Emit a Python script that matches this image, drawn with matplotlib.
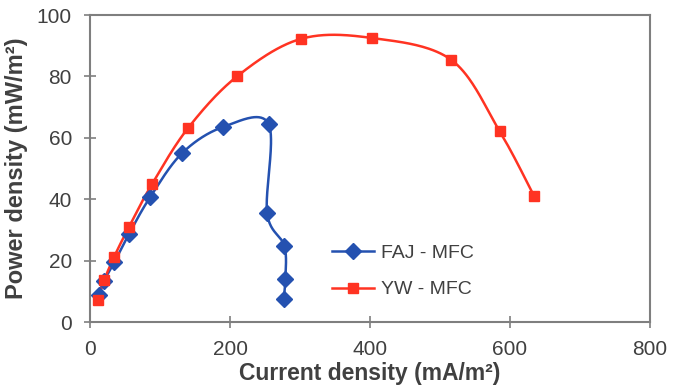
import numpy as np
import matplotlib
matplotlib.use("Agg")
import matplotlib.pyplot as plt

plt.rcParams['font.family'] = ['Liberation Sans', 'DejaVu Sans']

faj_x = [13, 19.5, 34.6, 56, 86, 132, 190, 255, 253, 277.6, 279, 276.6]
faj_y = [8.8, 13.2, 19.4, 28.8, 40.7, 55.1, 63.5, 64.6, 35.5, 24.8, 14, 7.5]

yw_x = [11, 20.4, 34.6, 56, 88.3, 140.5, 210.6, 301, 403, 516, 585, 634]
yw_y = [7.2, 13.7, 21.3, 31.1, 44.8, 63.3, 80.1, 92.2, 92.5, 85.4, 62.2, 41.2]

x_ticks = [0, 200, 400, 600, 800]
y_ticks = [0, 20, 40, 60, 80, 100]

BLUE = '#2451B0'
RED = '#FF3322'
GRAY = '#7f7f7f'


def smooth(xs, ys, sx=562 / 800, sy=306 / 100, n=40):
    # Catmull-Rom (Bezier) smoothing in screen-proportional space
    P = np.column_stack([np.asarray(xs) * sx, np.asarray(ys) * sy])
    P = np.vstack([P[0], P, P[-1]])
    out = []
    t = np.linspace(0, 1, n)[:, None]
    for i in range(1, len(P) - 2):
        p0, p1, p2, p3 = P[i - 1], P[i], P[i + 1], P[i + 2]
        c1 = p1 + (p2 - p0) / 6
        c2 = p2 - (p3 - p1) / 6
        seg = ((1 - t) ** 3) * p1 + 3 * ((1 - t) ** 2) * t * c1 + 3 * (1 - t) * t ** 2 * c2 + t ** 3 * p2
        out.append(seg)
    out = np.vstack(out)
    return out[:, 0] / sx, out[:, 1] / sy


fig = plt.figure(figsize=(6.79, 3.90), dpi=100)
ax = fig.add_axes([90 / 679, 68 / 390, 560 / 679, 307 / 390])

sx_, sy_ = smooth(faj_x, faj_y)
ax.plot(sx_, sy_, color=BLUE, lw=1.8, zorder=3)
ax.plot(faj_x, faj_y, linestyle='none', marker='D', ms=8.5, color=BLUE, zorder=4)
ax.plot([], [], color=BLUE, lw=1.8, marker='D', ms=8, label='FAJ - MFC')

sx_, sy_ = smooth(yw_x, yw_y)
ax.plot(sx_, sy_, color=RED, lw=1.8, zorder=3)
ax.plot(yw_x, yw_y, linestyle='none', marker='s', ms=7.5, color=RED, zorder=4)
ax.plot([], [], color=RED, lw=1.8, marker='s', ms=7, label='YW - MFC')

ax.set_xlim(0, 800)
ax.set_ylim(0, 100)
ax.set_xticks(x_ticks)
ax.set_yticks(y_ticks)
ax.tick_params(direction='inout', length=8, width=1.2, color=GRAY,
               labelsize=15, labelcolor='#404040')
ax.tick_params(axis='x', pad=9)
ax.tick_params(axis='y', pad=9)
for s in ax.spines.values():
    s.set_color(GRAY)
    s.set_linewidth(1.5)

ax.set_xlabel('Current density (mA/m²)', fontsize=16.5, fontweight='bold', color='#404040', labelpad=2)
ax.set_ylabel('Power density (mW/m²)', fontsize=17, fontweight='bold', color='#404040', labelpad=6)

ax.legend(loc='upper left', bbox_to_anchor=(230 / 560, (322 - 233) / 307), frameon=False,
          fontsize=14, handlelength=2.2, handletextpad=0.35, labelspacing=0.95,
          labelcolor='#404040', borderaxespad=0.2)

fig.savefig('out.png', dpi=100)
